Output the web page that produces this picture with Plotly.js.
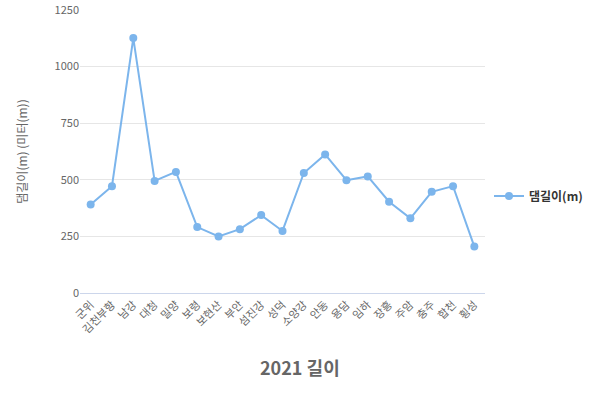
<!DOCTYPE html>
<html>
<head>
<meta charset="utf-8">
<script src="https://cdn.plot.ly/plotly-3.0.1.min.js"></script>
<style>
  html, body { margin: 0; padding: 0; background: #fff; }
  #plot { width: 600px; height: 400px; }
</style>
</head>
<body>
<div id="plot"></div>
<script>
// 2021 댐 길이
const dams = ['군위', '김천부항', '남강', '대청', '밀양', '보령', '보현산', '부안', '섬진강', '성덕',
  '소양강', '안동', '용담', '임하', '장흥', '주암', '충주', '합천', '횡성'];
const lengths = [391, 472, 1126, 495, 535, 291, 250, 282, 344, 274,
  530, 612, 498, 515, 403, 330, 447, 472, 205];
const yTicks = [0, 250, 500, 750, 1000, 1250];

const font = '"Noto Sans CJK KR", "Noto Sans", sans-serif';

const trace = {
  x: dams,
  y: lengths,
  name: '댐길이(m)',
  mode: 'lines+markers',
  type: 'scatter',
  line: { color: '#7cb5ec', width: 2 },
  marker: { color: '#7cb5ec', size: 8 },
};

const layout = {
  width: 600,
  height: 400,
  font: { family: font, color: '#666666', size: 11 },
  showlegend: true,
  legend: {
    xref: 'container', yref: 'container',
    x: 0.815, y: 0.51, yanchor: 'middle', xanchor: 'left',
    itemwidth: 30,
    font: { size: 12, color: '#333333', weight: 'bold' },
  },
  xaxis: {
    type: 'category',
    range: [-0.5, dams.length - 0.5],
    tickangle: -45,
    showgrid: false,
    showline: true,
    linecolor: '#ccd6eb',
    ticks: '',
    tickfont: { size: 11, color: '#666666' },
  },
  yaxis: {
    range: [0, 1250],
    tickvals: yTicks,
    gridcolor: '#e6e6e6',
    zeroline: false,
    ticks: '',
    tickfont: { size: 11, color: '#666666' },
    title: { text: '댐길이(m) (미터(m))', font: { size: 12, color: '#666666' }, standoff: 24 },
  },
  annotations: [{
    text: '2021 길이',
    xref: 'paper', yref: 'paper',
    x: 0.543, y: -0.261, xanchor: 'center', yanchor: 'middle',
    showarrow: false,
    font: { size: 18, color: '#666666', weight: 'bold' },
  }],
  margin: { l: 80, r: 115, t: 10, b: 107, autoexpand: false },
  plot_bgcolor: '#fff',
  paper_bgcolor: '#fff',
};

const config = {
  staticPlot: true,
  displayModeBar: false,
};

Plotly.newPlot('plot', [trace], layout, config);
</script>
</body>
</html>
